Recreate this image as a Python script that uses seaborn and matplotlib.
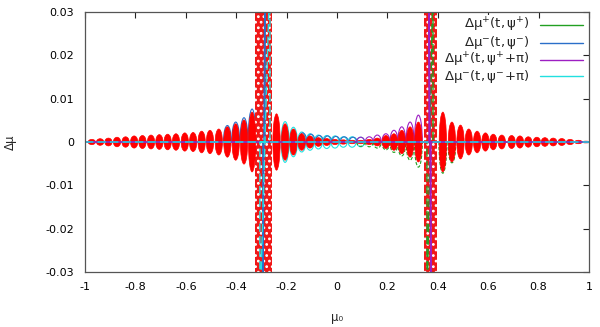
import matplotlib
matplotlib.use("Agg")
import matplotlib.pyplot as plt
import seaborn as sns
import pandas as pd
from matplotlib.patches import Ellipse, Arc, Rectangle

# ---------------- data ----------------
# red oscillation lobes: centre (mu0) and half-height (delta mu)
red_mu = [-0.973, -0.940, -0.907, -0.873, -0.839, -0.805, -0.772, -0.738, -0.705, -0.672,
          -0.639, -0.604, -0.571, -0.537, -0.504, -0.469, -0.435, -0.402, -0.369, -0.337,
          -0.240, -0.206, -0.173, -0.140, -0.107, -0.074, -0.041, -0.008, 0.025, 0.060,
          0.094, 0.128, 0.160, 0.194, 0.226, 0.257, 0.290, 0.323,
          0.420, 0.456, 0.490, 0.523, 0.556, 0.589, 0.620, 0.654, 0.693, 0.726,
          0.759, 0.793, 0.825, 0.858, 0.892, 0.925, 0.958, 0.988]
red_amp = [0.0006, 0.00076, 0.0009, 0.0011, 0.0012, 0.0014, 0.0015, 0.0016, 0.0017, 0.0018,
           0.0019, 0.0021, 0.0022, 0.0025, 0.0027, 0.0030, 0.0035, 0.0042, 0.0051, 0.0069,
           0.0065, 0.0042, 0.0030, 0.0019, 0.0014, 0.0010, 0.0008, 0.0006, 0.0005, 0.0004,
           0.0004, 0.0006, 0.0009, 0.0015, 0.0019, 0.0027, 0.0035, 0.0046,
           0.0069, 0.0046, 0.0039, 0.0030, 0.0025, 0.0021, 0.0018, 0.0016, 0.0015, 0.0014,
           0.0012, 0.0011, 0.0010, 0.0009, 0.0008, 0.0006, 0.0004, 0.0002]

# outline lobes of the individual curves
cyan_mu = [-0.206, -0.173, -0.140, -0.107, -0.074, -0.041, -0.008, 0.025, 0.060, 0.094]
cyan_amp = [0.0047, 0.0034, 0.0023, 0.0019, 0.0016, 0.0015, 0.0014, 0.0012, 0.0012, 0.0011]
blue_mu = [-0.435, -0.402, -0.369, -0.337, -0.136, -0.103, -0.070, -0.037, -0.004, 0.029, 0.064]
blue_amp = [0.0038, 0.0046, 0.0056, 0.0076, 0.0021, 0.0018, 0.0015, 0.0014, 0.0013, 0.0012, 0.0011]
purple_mu = [0.094, 0.128, 0.160, 0.194, 0.226, 0.257, 0.290, 0.323]
purple_amp = [0.0011, 0.0012, 0.0016, 0.0019, 0.0027, 0.0035, 0.0046, 0.0062]
green_mu = [0.094, 0.128, 0.160, 0.194, 0.226, 0.257, 0.290, 0.323, 0.420, 0.456]
green_amp = [0.0010, 0.0011, 0.0014, 0.0018, 0.0024, 0.0032, 0.0042, 0.0058, 0.0072, 0.0048]

# resonance bands (mu0 range) filled with scattered points
band_lo = [-0.325, 0.345]
band_hi = [-0.258, 0.397]

# the four curves: baseline plus resonance spike
green_x = [-1.0, 0.381, 0.381, 0.357, 0.357, 1.0]
green_y = [0.0, 0.0, 0.04, -0.04, 0.0, 0.0]
blue_x = [-1.0, -0.286, -0.286, -0.294, -0.294, 1.0]
blue_y = [0.0, 0.0, 0.04, -0.04, 0.0, 0.0]
purple_x = [-1.0, 0.365, 0.365, 0.373, 0.373, 1.0]
purple_y = [0.0, 0.0, 0.04, -0.04, 0.0, 0.0]
cyan_x = [-1.0, -0.266, -0.266, -0.306, -0.306, 1.0]
cyan_y = [0.0, 0.0, 0.04, -0.04, 0.0, 0.0]

labels = [r"$\mathregular{\Delta\mu^{+}(t,\psi^{+})}$",
          r"$\mathregular{\Delta\mu^{-}(t,\psi^{-})}$",
          r"$\mathregular{\Delta\mu^{+}(t,\psi^{+}\!+\!\pi)}$",
          r"$\mathregular{\Delta\mu^{-}(t,\psi^{-}\!+\!\pi)}$"]
colors = ["#22a022", "#2a6fc9", "#9d1fc2", "#22e0e0"]

x_ticks = [-1.0, -0.8, -0.6, -0.4, -0.2, 0.0, 0.2, 0.4, 0.6, 0.8, 1.0]
x_tick_labels = ["-1", "-0.8", "-0.6", "-0.4", "-0.2", "0", "0.2", "0.4", "0.6", "0.8", "1"]
y_ticks = [-0.03, -0.02, -0.01, 0.0, 0.01, 0.02, 0.03]
y_tick_labels = ["-0.03", "-0.02", "-0.01", "0", "0.01", "0.02", "0.03"]

# ---------------- plotting ----------------
sns.set_style("white")
plt.rcParams["font.family"] = ["DejaVu Sans"]
plt.rcParams["mathtext.fontset"] = "dejavusans"
plt.rcParams["hatch.linewidth"] = 1.2

fig = plt.figure(figsize=(6.0, 3.27), dpi=100)
ax = fig.add_axes([85 / 600, 1 - 272 / 327, 504 / 600, 260 / 327])

lobe_w = 0.029
# outlines first
for m, a in zip(cyan_mu, cyan_amp):
    ax.add_patch(Ellipse((m, 0), lobe_w + 0.002, 2 * a, facecolor="none",
                         edgecolor=colors[3], lw=0.8, zorder=2))
for m, a in zip(blue_mu, blue_amp):
    ax.add_patch(Arc((m, 0), lobe_w + 0.002, 2 * a, theta1=0, theta2=180,
                     edgecolor=colors[1], lw=0.8, zorder=2))
for m, a in zip(purple_mu, purple_amp):
    ax.add_patch(Arc((m, 0), lobe_w + 0.002, 2 * a, theta1=0, theta2=180,
                     edgecolor=colors[2], lw=0.8, zorder=2))
for m, a in zip(green_mu, green_amp):
    ax.add_patch(Arc((m, 0), lobe_w + 0.002, 2 * a, theta1=180, theta2=360,
                     edgecolor=colors[0], lw=0.8, zorder=2, linestyle=(0, (3, 1.5))))

# resonance bands (dense scattered points): red with white speckles
for lo, hi in zip(band_lo, band_hi):
    ax.add_patch(Rectangle((lo, -0.04), hi - lo, 0.08, facecolor="#f01818",
                           edgecolor="white", hatch="...", lw=0, zorder=3))

# red lobes
for m, a in zip(red_mu, red_amp):
    ax.add_patch(Ellipse((m, 0), lobe_w, 2 * a, facecolor="#ff0000",
                         edgecolor="#ff0000", lw=0.5, zorder=3))

# the four curves
series = [(green_x, green_y), (blue_x, blue_y), (purple_x, purple_y), (cyan_x, cyan_y)]
styles = [(0, (6, 3)), "-", "-", (0, (6, 3))]
for (xs, ys), c, ls in zip(series, colors, styles):
    df = pd.DataFrame({"mu0": xs, "dmu": ys})
    sns.lineplot(data=df, x="mu0", y="dmu", sort=False, estimator=None,
                 color=c, lw=1.0, linestyle=ls, ax=ax, legend=False, zorder=4)

ax.set_xlim(-1, 1)
ax.set_ylim(-0.03, 0.03)
ax.set_xticks(x_ticks)
ax.set_xticklabels(x_tick_labels)
ax.set_yticks(y_ticks)
ax.set_yticklabels(y_tick_labels)
ax.tick_params(direction="in", top=True, right=True, length=4, width=0.8,
               labelsize=8, colors="#222222", labelcolor="black")
ax.tick_params(axis="y", pad=8)
ax.tick_params(axis="x", pad=7)
for s in ax.spines.values():
    s.set_color("#555555")
    s.set_linewidth(0.9)
    s.set_zorder(6)

ax.set_xlabel("μ₀", fontsize=8.5, labelpad=14)
ax.set_ylabel("Δμ", fontsize=8.5, labelpad=20)

# legend (gnuplot style: right-aligned text, sample line on right)
rows = [0.950, 0.882, 0.816, 0.752]
for lab, c, ry in zip(labels, colors, rows):
    ax.text(0.883, ry, lab, transform=ax.transAxes, ha="right", va="center",
            fontsize=9.5, zorder=7,
            bbox=dict(facecolor="white", edgecolor="none", pad=0.5))
    ax.plot([0.903, 0.988], [ry, ry], transform=ax.transAxes, color=c, lw=1.0, zorder=7)

fig.savefig("out.png", dpi=100)
